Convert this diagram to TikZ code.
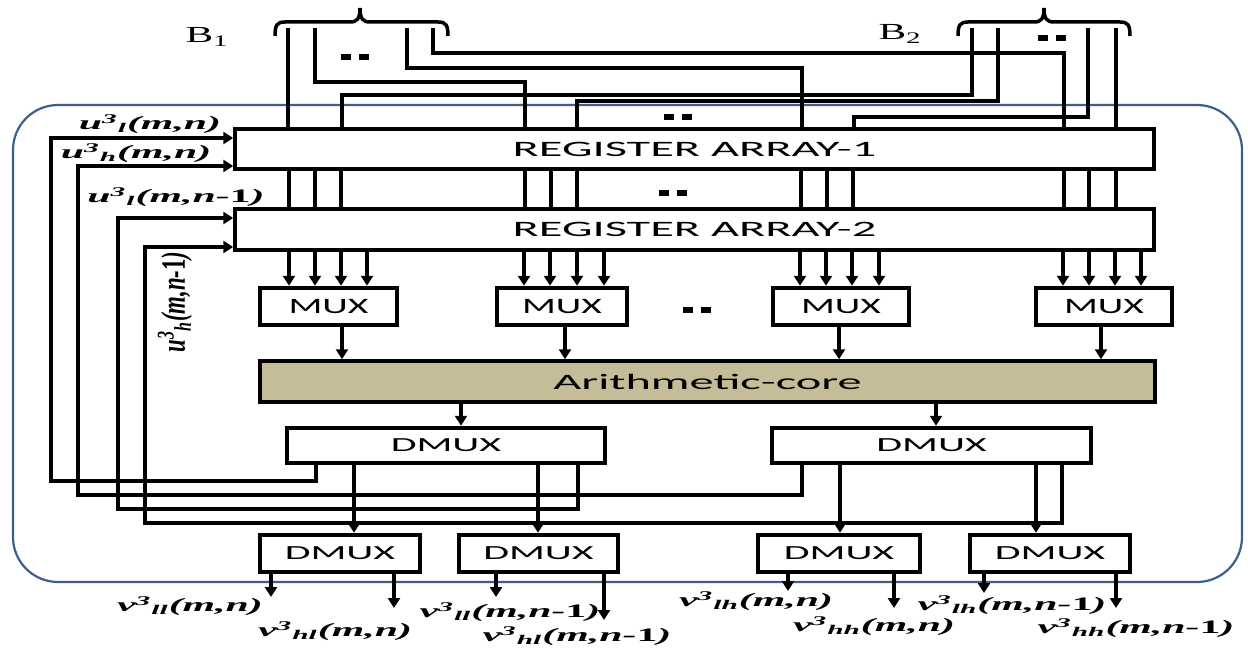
\documentclass[tikz,border=0pt]{standalone}
\usepackage{fontspec}
\usepackage{graphicx}
\setmainfont{Liberation Serif}
\newfontfamily\boxfont{Carlito}
\usetikzlibrary{arrows.meta}
\newcommand{\sx}[2][2.2]{\scalebox{#1}[1]{#2}}
\newcommand{\ulab}[2]{u\textsuperscript{3}\textsubscript{#1}(m,n#2)}
\newcommand{\vlab}[2]{v\textsuperscript{3}\textsubscript{#1}(m,n#2)}
\newcommand{\mone}{-\textup{1}}
\definecolor{coretan}{RGB}{196,189,151}
\definecolor{frameblue}{RGB}{60,95,140}
\begin{document}
\begin{tikzpicture}[x=1pt,y=-1pt,
  wire/.style={line width=3.2pt},
  arr/.style={line width=3.2pt,-{Triangle[length=10pt,width=12pt]}},
  blk/.style={draw,line width=3.5pt,fill=white,inner sep=0pt,
    font=\boxfont\fontsize{22}{22}\selectfont},
  muxbox/.style={blk,line width=4.5pt,minimum height=37pt},
  dmuxbox/.style={blk,line width=4.5pt,font=\boxfont\fontsize{20}{20}\selectfont},
  lab/.style={inner sep=0pt,font=\fontsize{19}{19}\selectfont\bfseries\itshape},
  blab/.style={inner sep=0pt,font=\fontsize{23}{23}\selectfont},
  brace/.style={line width=3.5pt},
  dashpair/.pic={\fill (-14,-3) rectangle (-4,3); \fill (4,-3) rectangle (14,3);}
]
\useasboundingbox (0,0) rectangle (1248,650);
\fill[white] (0,0) rectangle (1248,650);

% outer frame
\draw[frameblue,line width=2.2pt,rounded corners=45pt] (13,105) rectangle (1242,582);

% register arrays
\node[blk,minimum width=919pt,minimum height=40pt] (ra1) at (694.5,149) {\sx{REGISTER ARRAY-1}};
\node[blk,minimum width=919pt,minimum height=41pt] (ra2) at (694.5,229.5) {\sx{REGISTER ARRAY-2}};

% muxes
\node[muxbox,minimum width=137pt] (mux1) at (328.5,306.5) {\sx[1.8]{MUX}};
\node[muxbox,minimum width=130pt] (mux2) at (562,306.5) {\sx[1.8]{MUX}};
\node[muxbox,minimum width=136pt] (mux3) at (841,306.5) {\sx[1.8]{MUX}};
\node[muxbox,minimum width=136pt] (mux4) at (1104,306.5) {\sx[1.8]{MUX}};

% arithmetic core
\node[blk,fill=coretan,minimum width=895pt,minimum height=41pt] (arith) at (707.5,381.5) {\sx{Arithmetic-core}};

% dmux
\node[dmuxbox,minimum width=318pt,minimum height=35pt] (dm1) at (446,445.5) {\sx[2.1]{DMUX}};
\node[dmuxbox,minimum width=319pt,minimum height=35pt] (dm2) at (931.5,445.5) {\sx[2.1]{DMUX}};
\node[dmuxbox,minimum width=160pt,minimum height=37pt] (db1) at (340,553.5) {\sx[2.1]{DMUX}};
\node[dmuxbox,minimum width=159pt,minimum height=37pt] (db2) at (538.5,553.5) {\sx[2.1]{DMUX}};
\node[dmuxbox,minimum width=162pt,minimum height=37pt] (db3) at (839,553.5) {\sx[2.1]{DMUX}};
\node[dmuxbox,minimum width=160pt,minimum height=37pt] (db4) at (1050,553.5) {\sx[2.1]{DMUX}};

% braces and bus labels
\node[blab] (B1) at (207,37) {\sx[1.8]{B\textsubscript{1}}};
\node[blab] (B2) at (900,34) {\sx[1.8]{B\textsubscript{2}}};
\draw[brace] (275,36) .. controls (275,25) and (277,22) .. (285,22) -- (350,22) .. controls (357,22) and (360,19) .. (360,8);
\draw[brace] (448,36) .. controls (448,25) and (446,22) .. (438,22) -- (370,22) .. controls (363,22) and (360,19) .. (360,8);
\draw[brace] (958,36) .. controls (958,25) and (960,22) .. (968,22) -- (1034,22) .. controls (1041,22) and (1044,19) .. (1044,8);
\draw[brace] (1130,36) .. controls (1130,25) and (1128,22) .. (1120,22) -- (1054,22) .. controls (1047,22) and (1044,19) .. (1044,8);

\coordinate (b11) at (288,28); \coordinate (b12) at (315,28);
\coordinate (b13) at (407,28); \coordinate (b14) at (433,28);
\coordinate (b21) at (972,28); \coordinate (b22) at (998,28);
\coordinate (b23) at (1088,28); \coordinate (b24) at (1116,28);

% top wiring
\draw[wire] (b11) -- (288,0 |- ra1.north);
\draw[wire] (b12) |- (525,82) -- (525,0 |- ra1.north);
\draw[wire] (b13) |- (802,68) -- (802,0 |- ra1.north);
\draw[wire] (b14) |- (1064,53) -- (1064,0 |- ra1.north);
\draw[wire] (b21) |- (342,95) -- (342,0 |- ra1.north);
\draw[wire] (b22) |- (577,101) -- (577,0 |- ra1.north);
\draw[wire] (b23) |- (854,117) -- (854,0 |- ra1.north);
\draw[wire] (b24) -- (1116,0 |- ra1.north);

% RA1 -> RA2
\foreach \x in {289,315,341,525,551,577,801,827,853,1064,1089,1116}
  \draw[wire] (\x,0 |- ra1.south) -- (\x,0 |- ra2.north);

% RA2 -> MUX
\foreach \x in {289,315,341,367} \draw[arr] (\x,0 |- ra2.south) -- (\x,0 |- mux1.north);
\foreach \x in {524,550,577,604} \draw[arr] (\x,0 |- ra2.south) -- (\x,0 |- mux2.north);
\foreach \x in {800,826,852,879} \draw[arr] (\x,0 |- ra2.south) -- (\x,0 |- mux3.north);
\foreach \x in {1063,1089,1115,1141} \draw[arr] (\x,0 |- ra2.south) -- (\x,0 |- mux4.north);

% MUX -> core
\draw[arr] (342,0 |- mux1.south) -- (342,0 |- arith.north);
\draw[arr] (565,0 |- mux2.south) -- (565,0 |- arith.north);
\draw[arr] (839,0 |- mux3.south) -- (839,0 |- arith.north);
\draw[arr] (1101,0 |- mux4.south) -- (1101,0 |- arith.north);

% core -> DMUX
\draw[arr] (461,0 |- arith.south) -- (461,0 |- dm1.north);
\draw[arr] (936,0 |- arith.south) -- (936,0 |- dm2.north);

% DMUX -> DMUX
\draw[arr] (354,0 |- dm1.south) -- (354,0 |- db1.north);
\draw[arr] (538,0 |- dm1.south) -- (538,0 |- db2.north);
\draw[arr] (840,0 |- dm2.south) -- (840,0 |- db3.north);
\draw[arr] (1036,0 |- dm2.south) -- (1036,0 |- db4.north);

% feedback
\draw[arr] (316,0 |- dm1.south) -- (316,481) -- (51,481) -- (51,138) -- (ra1.west |- 0,138);
\draw[arr] (802,0 |- dm2.south) -- (802,495) -- (78,495) -- (78,166) -- (ra1.west |- 0,166);
\draw[arr] (578,0 |- dm1.south) -- (578,509) -- (118,509) -- (118,218) -- (ra2.west |- 0,218);
\draw[arr] (1062,0 |- dm2.south) -- (1062,523) -- (145,523) -- (145,247) -- (ra2.west |- 0,247);

% outputs
\coordinate (o11) at (271,597); \coordinate (o12) at (394,608);
\coordinate (o21) at (496,597); \coordinate (o22) at (604,620);
\coordinate (o31) at (788,591); \coordinate (o32) at (894,608);
\coordinate (o41) at (984,593); \coordinate (o42) at (1116,608);
\draw[arr] (o11 |- db1.south) -- (o11);
\draw[arr] (o12 |- db1.south) -- (o12);
\draw[arr] (o21 |- db2.south) -- (o21);
\draw[arr] (o22 |- db2.south) -- (o22);
\draw[arr] (o31 |- db3.south) -- (o31);
\draw[arr] (o32 |- db3.south) -- (o32);
\draw[arr] (o41 |- db4.south) -- (o41);
\draw[arr] (o42 |- db4.south) -- (o42);

% input labels
\node[lab] (u1) at (150,124) {\sx{\ulab{l}{}}};
\node[lab] (u2) at (136,153) {\sx{\ulab{h}{}}};
\node[lab] (u3) at (176,197) {\sx{\ulab{l}{\mone}}};
\node[lab,rotate=90] (u4) at (175,302) {\scalebox{1.2}[1.8]{\ulab{h}{\mone}}};

% output labels
\node[lab] (v1) at (190,606) {\sx{\vlab{ll}{}}};
\node[lab] (v2) at (335,631) {\sx{\vlab{hl}{}}};
\node[lab] (v3) at (510,612) {\sx{\vlab{ll}{\mone}}};
\node[lab] (v4) at (577,636) {\sx{\vlab{hl}{\mone}}};
\node[lab] (v5) at (756,601) {\sx{\vlab{lh}{}}};
\node[lab] (v6) at (874,626) {\sx{\vlab{hh}{}}};
\node[lab] (v7) at (1012,605) {\sx{\vlab{lh}{\mone}}};
\node[lab] (v8) at (1136,628) {\sx{\vlab{hh}{\mone}}};

% continuation marks
\pic at (355,57) {dashpair};
\pic at (678,117) {dashpair};
\pic at (673,193) {dashpair};
\pic at (697,310) {dashpair};
\pic at (1052,38) {dashpair};
\end{tikzpicture}
\end{document}
